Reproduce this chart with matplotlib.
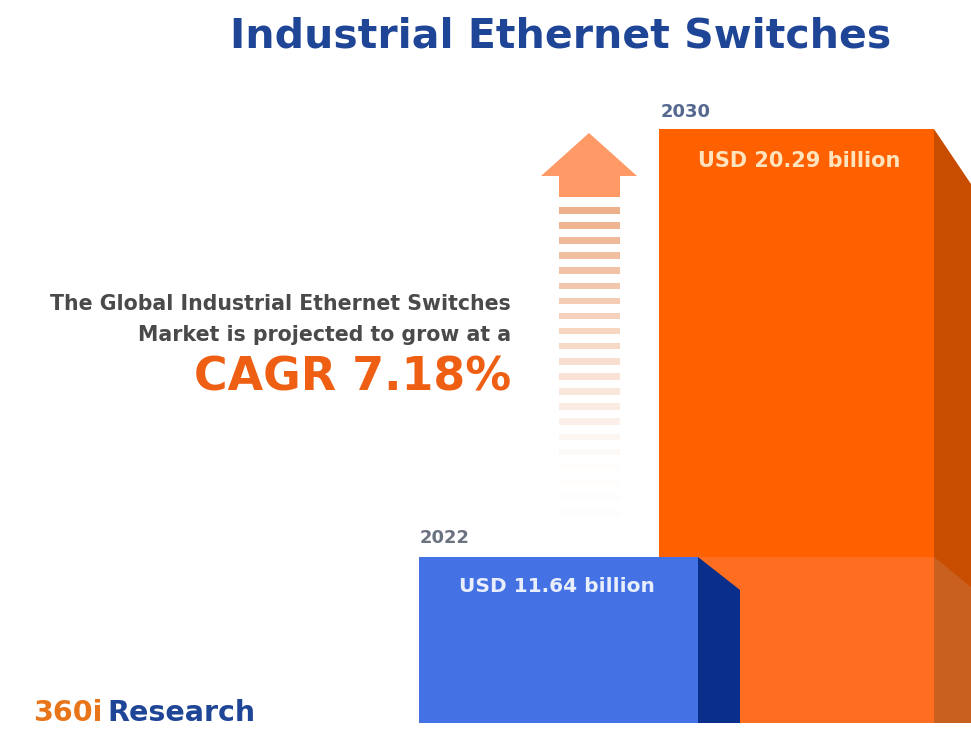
import matplotlib
matplotlib.use('Agg')
import matplotlib.pyplot as plt
from matplotlib.patches import Polygon, Rectangle

years = ['2022', '2030']
values = [11.64, 20.29]
value_labels = ['USD 11.64 billion', 'USD 20.29 billion']
title = 'Industrial Ethernet Switches'
blurb = ['The Global Industrial Ethernet Switches', 'Market is projected to grow at a']
cagr = 'CAGR 7.18%'

W, H = 971, 747
NAVY = '#1f4597'
ORANGE = '#ff6000'
FONT = 'DejaVu Sans'

fig = plt.figure(figsize=(W / 100, H / 100), dpi=100, facecolor='white')

# value axis is truncated, baseline sits at 723px and the two bar tops at 557px and 129px
base_px, top_22, top_30 = 723, 557, 129
per_px = (values[1] - values[0]) / (top_22 - top_30)
y_base = values[0] - (base_px - top_22) * per_px

ax = fig.add_axes([0, 0, 1, 1])
ax.set_xlim(0, W)
ax.set_ylim(y_base - (H - base_px) * per_px, y_base + base_px * per_px)
ax.axis('off')

# pixel overlay for the 3d faces, arrow and text
px = fig.add_axes([0, 0, 1, 1])
px.set_xlim(0, W)
px.set_ylim(H, 0)
px.axis('off')
px.patch.set_alpha(0)


def to_px(v):
    return base_px - (v - y_base) / per_px


ax.bar([796.5], [values[1] - y_base], width=275, bottom=y_base, color=ORANGE, linewidth=0)
ax.bar([558.5], [values[0] - y_base], width=279, bottom=y_base, color='#4472e4', linewidth=0, zorder=3)

t30 = to_px(values[1])
t22 = to_px(values[0])

# side face of the tall bar
px.add_patch(Polygon([(934, t30), (971, t30 + 55), (971, base_px), (934, base_px)], color='#c94d00', lw=0))
# lighter part where the short bar's floor overlaps
px.add_patch(Polygon([(698, t22), (934, t22), (934, base_px), (740, base_px), (740, t22 + 33)], color='#ff6e20', lw=0))
px.add_patch(Polygon([(934, t22), (971, t22 + 30), (971, base_px), (934, base_px)], color='#c96020', lw=0))
# side face of the short bar
px.add_patch(Polygon([(698, t22), (740, t22 + 33), (740, base_px), (698, base_px)], color='#0a2f8a', lw=0))

# arrow
px.add_patch(Polygon([(589, 133), (637, 176), (620, 176), (620, 197), (559, 197), (559, 176), (541, 176)],
                     color='#ff9a66', lw=0))
for i in range(21):
    y = 207 + 15.1 * i
    a = max(0.72 - 0.042 * i, 0.015)
    px.add_patch(Rectangle((559, y), 61, 6.5, color='#e8925f', alpha=a, lw=0))

px.text(561, 37, title, fontsize=29.5, fontweight='bold', color=NAVY, family=FONT, ha='center', va='center')
px.text(661, 112, years[1], fontsize=13, fontweight='bold', color='#55688f', family=FONT, va='center')
px.text(420, 538, years[0], fontsize=13, fontweight='bold', color='#6b7280', family=FONT, va='center')
px.text(799, 161, value_labels[1], fontsize=15, fontweight='bold', color='#ffe3bd', family=FONT, ha='center', va='center')
px.text(557, 586, value_labels[0], fontsize=14.5, fontweight='bold', color='#e8eefc', family=FONT, ha='center', va='center')
px.text(511, 304, blurb[0], fontsize=14.8, fontweight='bold', color='#4a4a4a', family=FONT, ha='right', va='center')
px.text(511, 335, blurb[1], fontsize=14.8, fontweight='bold', color='#4a4a4a', family=FONT, ha='right', va='center')
px.text(511, 378, cagr, fontsize=33, fontweight='bold', color='#ee5f14', family=FONT, ha='right', va='center')
px.text(33, 713, '360i', fontsize=20.5, fontweight='bold', color='#e8751a', family=FONT, va='center')
px.text(107, 713, 'Research', fontsize=20.5, fontweight='bold', color=NAVY, family=FONT, va='center')

fig.savefig('out.png', dpi=100)
